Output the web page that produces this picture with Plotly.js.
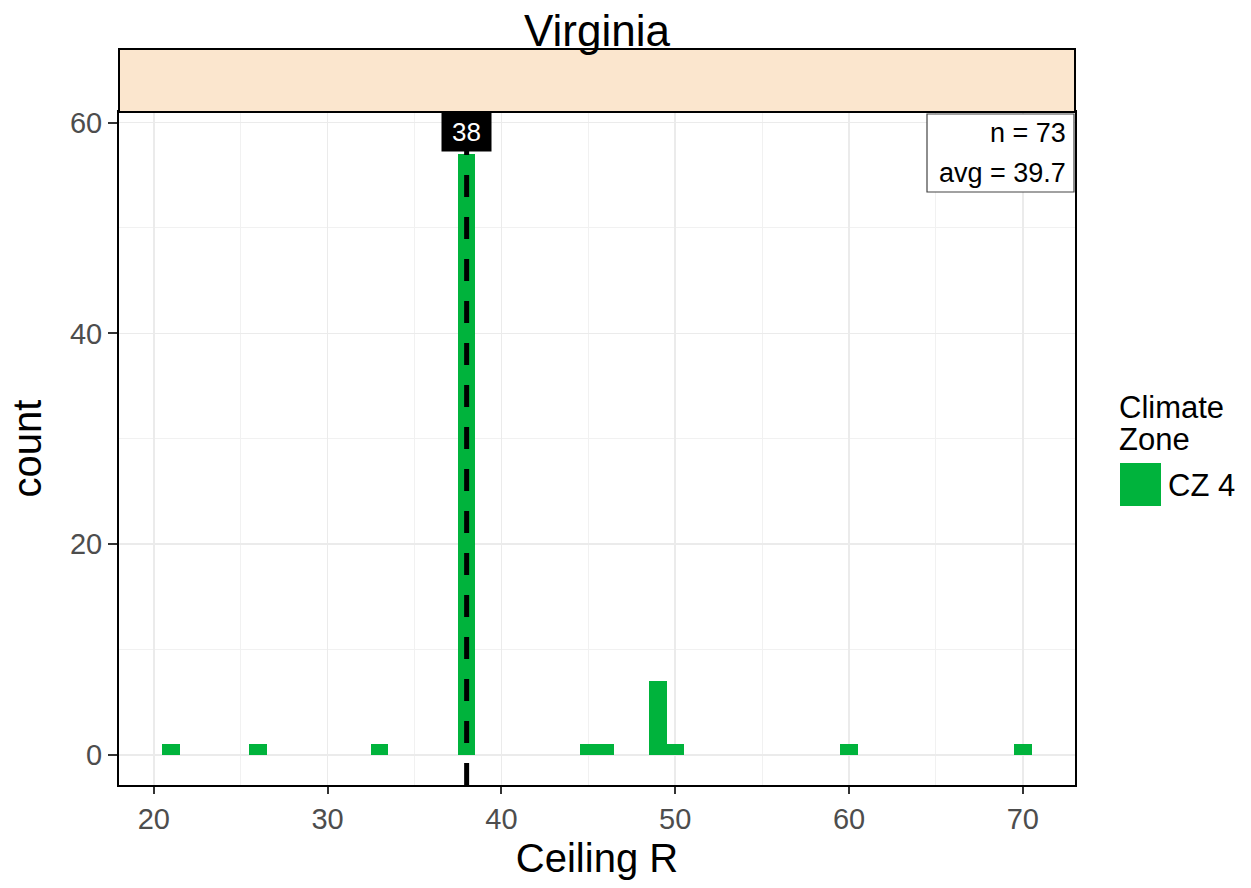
<!DOCTYPE html>
<html><head><meta charset="utf-8">
<script src="https://cdn.plot.ly/plotly-3.0.1.min.js"></script>
<style>html,body{margin:0;padding:0;background:#fff}</style>
</head><body><div id="chart" style="width:1251px;height:888px"></div>
<script>
// ---- data ----
const ceilingR = [21, 26, 33, 38, 45, 46, 49, 50, 60, 70];
const counts   = [1, 1, 1, 57, 1, 1, 7, 1, 1, 1];
const stateName = "Virginia";
const zoneName = "CZ 4";
const legendTitle = ["Climate", "Zone"];
const nTotal = 73;
const avgValue = 39.7;
const medianValue = 38;
const xTickVals = [20, 30, 40, 50, 60, 70];
const yTickVals = [0, 20, 40, 60];

// ---- layout geometry ----
const W = 1251, H = 888, L = 119, R = 1075, T = 112, B = 785;
const px = x => (x - L) / (R - L);
const py = y => (B - y) / (B - T);
const green = "#00B33C";
const FONT = "Liberation Sans, Arial, sans-serif";

const trace = {
  type: "bar", x: ceilingR, y: counts, width: 1,
  marker: {color: green, line: {width: 0}},
  name: zoneName, showlegend: false, hoverinfo: "x+y"
};

const layout = {
  width: W, height: H,
  margin: {l: L, r: W - R, t: T, b: H - B, pad: 0},
  paper_bgcolor: "#fff", plot_bgcolor: "#fff",
  font: {family: FONT, color: "#000"},
  title: {text: stateName, font: {family: FONT, size: 44, color: "#000"},
          x: 597 / W, xanchor: "center", y: 1 - 31 / H, yanchor: "middle", yref: "container"},
  showlegend: false,
  bargap: 0,
  xaxis: {
    range: [18, 73], tickvals: xTickVals, ticktext: xTickVals.map(String),
    ticks: "outside", ticklen: 7, tickwidth: 2, tickcolor: "#333",
    tickfont: {family: FONT, size: 29, color: "#4D4D4D"},
    showgrid: true, gridcolor: "#EBEBEB", gridwidth: 1.5,
    minor: {dtick: 5, tick0: 0, showgrid: true, gridcolor: "#F1F1F1", gridwidth: 1, ticks: ""},
    showline: true, mirror: true, linecolor: "#000", linewidth: 2,
    zeroline: false, automargin: false,
    title: {text: "Ceiling R", font: {family: FONT, size: 40, color: "#000"}, standoff: 10}
  },
  yaxis: {
    range: [-2.85, 61], tickvals: yTickVals, ticktext: yTickVals.map(String),
    ticks: "outside", ticklen: 9, tickwidth: 2, tickcolor: "#333",
    tickfont: {family: FONT, size: 29, color: "#4D4D4D"},
    showgrid: true, gridcolor: "#EBEBEB", gridwidth: 1.5,
    minor: {dtick: 10, tick0: 0, showgrid: true, gridcolor: "#F1F1F1", gridwidth: 1, ticks: ""},
    showline: true, mirror: true, linecolor: "#000", linewidth: 2,
    zeroline: false, automargin: false,
    title: {text: "count", font: {family: FONT, size: 40, color: "#000"}, standoff: 16}
  },
  shapes: [
    // facet strip
    {type: "rect", xref: "paper", yref: "paper", x0: 0, x1: 1, y0: 1, y1: py(49),
     fillcolor: "#FBE6CE", line: {color: "#000", width: 2}},
    // median dashed line
    {type: "line", xref: "x", yref: "y", x0: medianValue, x1: medianValue, y0: -2.85, y1: 58.5,
     line: {color: "#000", width: 5, dash: "22px,20px"}},
    // stats box
    {type: "rect", xref: "paper", yref: "paper", x0: px(927), x1: px(1074), y0: py(114), y1: py(192),
     fillcolor: "#fff", line: {color: "#444", width: 1.2}},
    // legend swatch
    {type: "rect", xref: "paper", yref: "paper", x0: px(1120), x1: px(1161), y0: py(463), y1: py(506),
     fillcolor: green, line: {width: 0}}
  ],
  annotations: [
    {xref: "x", yref: "y", x: medianValue, y: 59.1, text: String(medianValue), showarrow: false,
     font: {family: FONT, size: 26, color: "#fff"}, bgcolor: "#000", width: 45, height: 34, borderpad: 2,
     xanchor: "center", yanchor: "middle"},
    {xref: "paper", yref: "paper", x: px(1068), y: py(133), text: "n = " + nTotal, showarrow: false,
     font: {family: FONT, size: 27, color: "#000"}, xanchor: "right", yanchor: "middle", align: "right"},
    {xref: "paper", yref: "paper", x: px(1068), y: py(173), text: "avg = " + avgValue.toFixed(1), showarrow: false,
     font: {family: FONT, size: 27, color: "#000"}, xanchor: "right", yanchor: "middle", align: "right"},
    {xref: "paper", yref: "paper", x: px(1117), y: py(407), text: legendTitle[0], showarrow: false,
     font: {family: FONT, size: 31, color: "#000"}, xanchor: "left", yanchor: "middle"},
    {xref: "paper", yref: "paper", x: px(1117), y: py(439), text: legendTitle[1], showarrow: false,
     font: {family: FONT, size: 31, color: "#000"}, xanchor: "left", yanchor: "middle"},
    {xref: "paper", yref: "paper", x: px(1166), y: py(485), text: zoneName, showarrow: false,
     font: {family: FONT, size: 31, color: "#000"}, xanchor: "left", yanchor: "middle"}
  ]
};

Plotly.newPlot("chart", [trace], layout, {displayModeBar: false, staticPlot: true});
</script>
</body></html>
